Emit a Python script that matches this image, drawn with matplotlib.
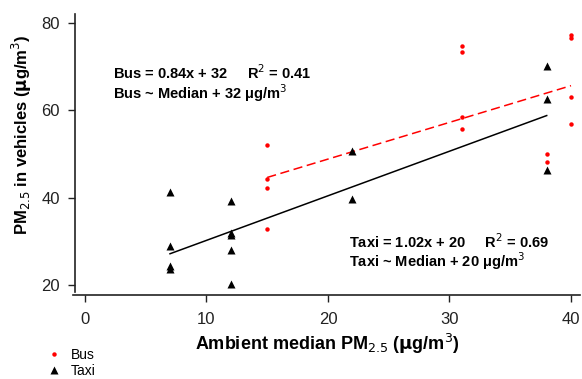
import numpy as np
import matplotlib
matplotlib.use('Agg')
import matplotlib.pyplot as plt

plt.rcParams['font.family'] = ['Liberation Sans', 'DejaVu Sans']

# Bus measurements (ambient median PM2.5, in-vehicle PM2.5)
bus_x = [15, 15, 15, 15, 31, 31, 31, 31, 38, 38, 40, 40, 40, 40]
bus_y = [52.0, 44.2, 42.2, 32.8, 74.7, 73.4, 58.4, 55.7, 50.0, 48.2, 77.2, 76.4, 63.1, 56.9]

# Taxi measurements
taxi_x = [7, 7, 7, 7, 12, 12, 12, 12, 12, 22, 22, 38, 38, 38]
taxi_y = [41.3, 29.0, 24.3, 23.6, 39.3, 32.0, 31.4, 28.1, 20.3, 50.7, 39.7, 70.1, 62.6, 46.2]

# regression lines as printed on the chart (slope, intercept)
bus_fit = (0.84, 32)
taxi_fit = (1.02, 20)

xticks = [0, 10, 20, 30, 40]
yticks = [20, 40, 60, 80]

fig = plt.figure(figsize=(5.82, 3.79), dpi=100)
ax = fig.add_axes([75 / 582, 84 / 379, 505 / 582, 281 / 379])

ax.plot(bus_x, bus_y, 'o', color='#ff0000', ms=3.2, mec='none', label='Bus', zorder=3)
ax.plot(taxi_x, taxi_y, '^', color='black', ms=6, mec='none', label='Taxi', zorder=3)

bx = np.array([min(bus_x), max(bus_x)])
ax.plot(bx, bus_fit[0] * bx + bus_fit[1], color='#ff0000', ls=(0, (6, 3)), lw=1.1)
tx = np.array([min(taxi_x), max(taxi_x)])
ax.plot(tx, taxi_fit[0] * tx + taxi_fit[1], color='black', lw=1.1)

ax.set_xlim(-0.82, 40.74)
ax.set_ylim(17.7, 82)
ax.set_xticks(xticks)
ax.set_yticks(yticks)
ax.tick_params(axis='both', direction='out', length=5, width=1, labelsize=12, colors='#222222')
ax.tick_params(axis='x', pad=7)
ax.tick_params(axis='y', pad=6)

for s in ['top', 'right']:
    ax.spines[s].set_visible(False)
for s in ['left', 'bottom']:
    ax.spines[s].set_linewidth(1.2)
    ax.spines[s].set_color('#222222')
ax.spines['left'].set_bounds(18.3, 82)
ax.spines['bottom'].set_bounds(-1.0, 40.74)

ax.set_xlabel('Ambient median PM$_{2.5}$ ($\\mathbf{\\mu}$g/m$^3$)', fontsize=13,
              fontweight='bold', labelpad=4)
ax.set_ylabel('PM$_{2.5}$ in vehicles ($\\mathbf{\\mu}$g/m$^3$)', fontsize=12,
              fontweight='bold')
ax.yaxis.set_label_coords(-0.081, 0.569)

# regression annotations, one text per line
ax.text(2.3, 68.5, 'Bus = 0.84x + 32     R$^2$ = 0.41',
        fontsize=10.5, fontweight='bold', va='center')
ax.text(2.3, 63.9, 'Bus ~ Median + 32 \u03bcg/m$^3$',
        fontsize=10.5, fontweight='bold', va='center')
ax.text(21.7, 30.0, 'Taxi = 1.02x + 20     R$^2$ = 0.69',
        fontsize=10.5, fontweight='bold', va='center')
ax.text(21.7, 25.4, 'Taxi ~ Median + 20 \u03bcg/m$^3$',
        fontsize=10.5, fontweight='bold', va='center')

fig.legend(loc='upper left', bbox_to_anchor=(46 / 582, 1 - 348 / 379), frameon=False,
           fontsize=10, handlelength=1.2, handletextpad=0.6, labelspacing=0.15,
           borderpad=0, borderaxespad=0)

fig.savefig('out.png', dpi=100)
